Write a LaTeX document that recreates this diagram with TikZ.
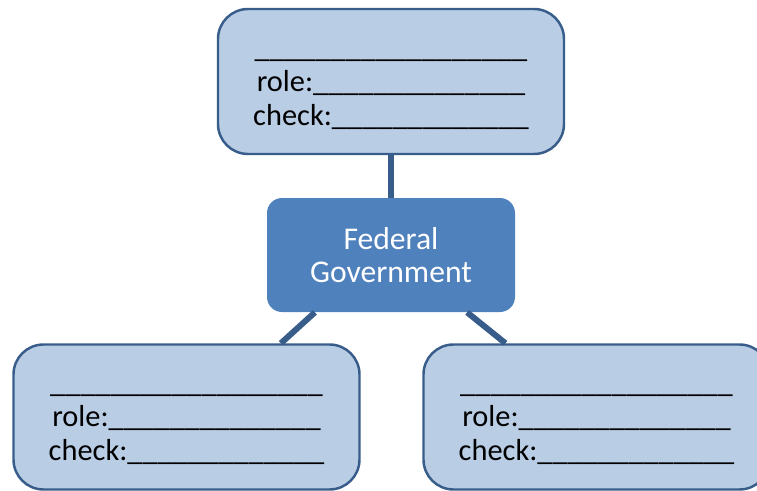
\documentclass[tikz,border=0pt]{standalone}
\usepackage{fontspec}
\setmainfont{Carlito}
\usepackage{xcolor}
\usetikzlibrary{positioning,calc}

\definecolor{boxfill}{HTML}{B9CDE5}
\definecolor{boxline}{HTML}{385D8A}
\definecolor{govfill}{HTML}{4F81BD}

\begin{document}
\begin{tikzpicture}[scale=1.0]
  \tikzstyle{branch}=[rectangle, draw=boxline, fill=boxfill, line width=1.4pt, rounded corners=0.6cm, minimum width=6.92cm, minimum height=2.9cm, align=center, font=\fontsize{17.3}{19.3}\selectfont]
  \tikzstyle{gov}=[rectangle, fill=govfill, rounded corners=0.3cm, minimum width=4.96cm, minimum height=2.28cm, align=center, text=white, font=\fontsize{18}{18.7}\selectfont]
  \tikzstyle{link}=[draw=boxline, line width=3.4pt]

  \useasboundingbox (0,0) rectangle (15.14,9.8);
  \clip (0,0) rectangle (15.14,9.8);

  % Center
  \node[gov] (fed) at (7.82,4.70) {Federal\\Government};

  % Branches
  \node[branch] (top) at (7.82,8.17) {\strut\_\_\_\_\_\_\_\_\_\_\_\_\_\_\_\_\_\_\\role:\_\_\_\_\_\_\_\_\_\_\_\_\_\_\\check:\_\_\_\_\_\_\_\_\_\_\_\_\_};
  \node[branch] (left) at (3.73,1.46) {\strut\_\_\_\_\_\_\_\_\_\_\_\_\_\_\_\_\_\_\\role:\_\_\_\_\_\_\_\_\_\_\_\_\_\_\\check:\_\_\_\_\_\_\_\_\_\_\_\_\_};
  \node[branch] (right) at (11.93,1.46) {\strut\_\_\_\_\_\_\_\_\_\_\_\_\_\_\_\_\_\_\\role:\_\_\_\_\_\_\_\_\_\_\_\_\_\_\\check:\_\_\_\_\_\_\_\_\_\_\_\_\_};

  % Connections
  \draw[link] (top.south) -- (fed.north);
  \draw[link] (fed.217) -- (left.38.5);
  \draw[link] (fed.323) -- (right.141.8);
\end{tikzpicture}
\end{document}
